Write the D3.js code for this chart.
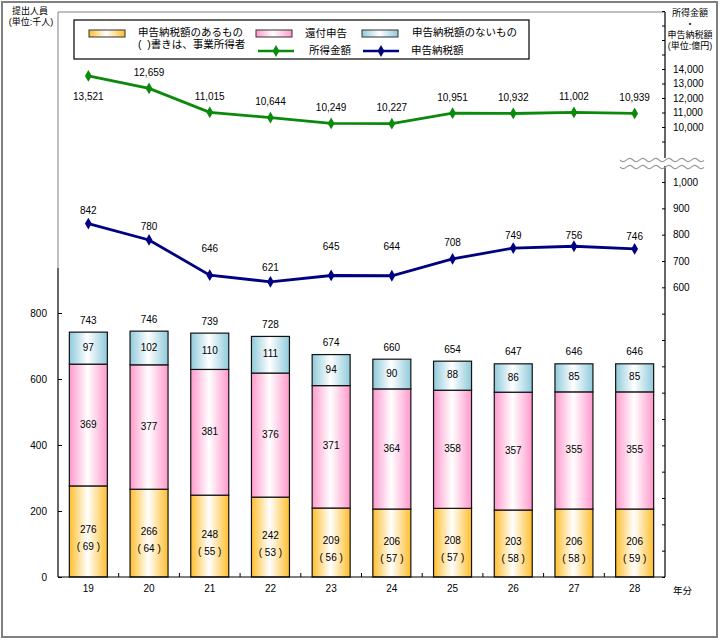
<!DOCTYPE html>
<html><head><meta charset="utf-8">
<script src="https://cdn.jsdelivr.net/npm/d3@7"></script>
<style>
body{margin:0;background:#fff;}
svg{display:block;}
.num{font-family:"Liberation Sans",Arial,sans-serif;font-size:10px;fill:#000;}
.jp{font-family:"Liberation Sans","Noto Sans CJK JP",sans-serif;fill:#000;white-space:pre;}
</style></head>
<body>
<svg id="chart" width="720" height="640"></svg>
<script>
// ---- data ----
const years = ["19","20","21","22","23","24","25","26","27","28"];
const taxPayers = [276,266,248,242,209,206,208,203,206,206];          // 申告納税額のあるもの
const businessIncome = [69,64,55,53,56,57,57,58,58,59];               // ( )書き 事業所得者
const refunds = [369,377,381,376,371,364,358,357,355,355];            // 還付申告
const nonTaxPayers = [97,102,110,111,94,90,88,86,85,85];              // 申告納税額のないもの
const totals = [743,746,739,728,674,660,654,647,646,646];
const incomeAmount = [13521,12659,11015,10644,10249,10227,10951,10932,11002,10939]; // 所得金額
const taxAmount = [842,780,646,621,645,644,708,749,756,746];           // 申告納税額
const leftTicks = [0,200,400,600,800];
const upperTicks = [9000,10000,11000,12000,13000,14000,15000,16000,17000,18000];
const upperLabels = [10000,11000,12000,13000,14000];
const lowerTicks = [-500,-400,-300,-200,-100,0,100,200,300,400,500,600,700,800,900,1000];
const lowerLabels = [600,700,800,900,1000];

// ---- layout ----
const svg = d3.select("#chart");
const L = 58, R = 665, B = 577, T = 12;
const taxLabelDy = [-12,-13,-26,-13,-28,-28,-16,-12,-10,-12];

const x = d3.scaleBand().domain(years).range([L, R]).paddingInner(0.374).paddingOuter(0.187);
const yL = d3.scaleLinear().domain([0, 800]).range([B, 313]);
const yU = d3.scaleLinear().domain([8000, 18000]).range([156, 11]);
const yLo = d3.scaleLinear().domain([-500, 1000]).range([577, 182]);
const fmt = d3.format(",");

// outer frame
svg.append("rect").attr("x",2).attr("y",2).attr("width",715).attr("height",635)
  .attr("fill","none").attr("stroke","#808080").attr("stroke-width",2);

// plot border (gray) top & left upper part
svg.append("line").attr("x1",L).attr("x2",R).attr("y1",T).attr("y2",T).attr("stroke","#808080");
svg.append("line").attr("x1",L).attr("x2",L).attr("y1",T).attr("y2",268).attr("stroke","#808080");

// gradients
const defs = svg.append("defs");
function grad(id, c){
  const g = defs.append("linearGradient").attr("id",id).attr("x1","0%").attr("x2","100%").attr("y1","0%").attr("y2","0%");
  g.append("stop").attr("offset","0%").attr("stop-color",c);
  g.append("stop").attr("offset","48%").attr("stop-color","#ffffff");
  g.append("stop").attr("offset","100%").attr("stop-color",c);
}
grad("gO","#FFBE2E");
grad("gP","#FF99CC");
grad("gB","#8FCADB");

// bars
const rows = years.map((y,i)=>({y, a:taxPayers[i], p:businessIncome[i], r:refunds[i], n:nonTaxPayers[i], t:totals[i]}));
const bw = x.bandwidth();
const g = svg.append("g");
rows.forEach(d=>{
  const x0 = x(d.y);
  const segs = [
    {v0:0, v1:d.a, fill:"url(#gO)"},
    {v0:d.a, v1:d.a+d.r, fill:"url(#gP)"},
    {v0:d.a+d.r, v1:d.a+d.r+d.n, fill:"url(#gB)"}
  ];
  segs.forEach(s=>{
    g.append("rect").attr("x",x0).attr("width",bw)
      .attr("y",yL(s.v1)).attr("height",yL(s.v0)-yL(s.v1))
      .attr("fill",s.fill).attr("stroke","#111").attr("stroke-width",1.2);
  });
  const cx = x0 + bw/2;
  const mA = (yL(0)+yL(d.a))/2;
  g.append("text").attr("class","num").attr("x",cx).attr("y",mA-1).attr("text-anchor","middle").attr("dominant-baseline","middle").text(d.a);
  g.append("text").attr("class","jp").style("font-size","10px").attr("x",cx).attr("y",mA+16).attr("text-anchor","middle").attr("dominant-baseline","middle").text("( "+d.p+" )");
  g.append("text").attr("class","num").attr("x",cx).attr("y",(yL(d.a)+yL(d.a+d.r))/2).attr("text-anchor","middle").attr("dominant-baseline","middle").text(d.r);
  g.append("text").attr("class","num").attr("x",cx).attr("y",(yL(d.a+d.r)+yL(d.a+d.r+d.n))/2).attr("text-anchor","middle").attr("dominant-baseline","middle").text(d.n);
  g.append("text").attr("class","num").attr("x",cx).attr("y",yL(d.a+d.r+d.n)-11).attr("text-anchor","middle").attr("dominant-baseline","middle").text(d.t);
});

// left axis
const axL = svg.append("g").attr("transform",`translate(${L},0)`)
  .call(d3.axisLeft(yL).tickValues(leftTicks).tickSizeInner(-4).tickSizeOuter(0).tickPadding(11));
axL.select(".domain").remove();
axL.selectAll("text").attr("class","num").style("font-size","10px").attr("font-family",null);
axL.selectAll("line").attr("stroke","#000");
svg.append("line").attr("x1",L).attr("x2",L).attr("y1",268).attr("y2",B).attr("stroke","#000").attr("stroke-width",1.2);

// bottom axis
svg.append("line").attr("x1",L).attr("x2",R).attr("y1",B).attr("y2",B).attr("stroke","#000").attr("stroke-width",1.2);
years.slice(1).forEach(yv=>{
  const bx = x(yv) - x.step()*x.paddingInner()/2;
  svg.append("line").attr("x1",bx).attr("x2",bx).attr("y1",B).attr("y2",B-4).attr("stroke","#000");
});
years.forEach(yv=>{
  svg.append("text").attr("class","num").attr("x",x(yv)+bw/2).attr("y",589).attr("text-anchor","middle").attr("dominant-baseline","middle").text(yv);
});
svg.append("text").attr("class","jp").style("font-size","9.5px").attr("x",673).attr("y",591).attr("dominant-baseline","middle").text("年分");

// right upper axis
const axU = svg.append("g").attr("transform",`translate(${R},0)`)
  .call(d3.axisRight(yU).tickValues(upperTicks).tickSizeInner(-3).tickSizeOuter(0).tickPadding(8)
    .tickFormat(v=>upperLabels.includes(v)?fmt(v):""));
axU.select(".domain").remove();
axU.selectAll("text").attr("class","num").style("font-size","10px").attr("font-family",null);
svg.append("line").attr("x1",R).attr("x2",R).attr("y1",T).attr("y2",158).attr("stroke","#000").attr("stroke-width",1.2);

// right lower axis
const axLo = svg.append("g").attr("transform",`translate(${R},0)`)
  .call(d3.axisRight(yLo).tickValues(lowerTicks).tickSizeInner(-3).tickSizeOuter(0).tickPadding(8)
    .tickFormat(v=>lowerLabels.includes(v)?fmt(v):""));
axLo.select(".domain").remove();
axLo.selectAll("text").attr("class","num").style("font-size","10px").attr("font-family",null);
svg.append("line").attr("x1",R).attr("x2",R).attr("y1",166).attr("y2",B).attr("stroke","#000").attr("stroke-width",1.2);

// break marks
[160,167].forEach(yy=>{
  const pts = d3.range(0,85,1).map(i=>[620+i, yy+1.6*Math.sin(i/13*2*Math.PI)]);
  svg.append("path").attr("d",d3.line()(pts)).attr("fill","none").attr("stroke","#999").attr("stroke-width",1.2);
});

// lines
const diamond = d3.symbol().type(d3.symbolDiamond).size(40);
function series(vals, ys, color){
  const line = d3.line().x((v,i)=>x(years[i])+bw/2).y(v=>ys(v));
  svg.append("path").attr("d",line(vals)).attr("fill","none").attr("stroke",color).attr("stroke-width",2.8);
  vals.forEach((v,i)=>{
    svg.append("path").attr("d",diamond).attr("fill",color)
      .attr("transform",`translate(${x(years[i])+bw/2},${ys(v)})`);
  });
}
series(incomeAmount, yU, "#0A8A0A");
series(taxAmount, yLo, "#000080");
incomeAmount.forEach((v,i)=>{
  svg.append("text").attr("class","num").attr("x",x(years[i])+bw/2).attr("y",yU(v)+(i===0?21:-15))
    .attr("text-anchor","middle").attr("dominant-baseline","middle").text(fmt(v));
});
taxAmount.forEach((v,i)=>{
  svg.append("text").attr("class","num").attr("x",x(years[i])+bw/2).attr("y",yLo(v)+taxLabelDy[i])
    .attr("text-anchor","middle").attr("dominant-baseline","middle").text(fmt(v));
});

// axis titles
const jt = (t,xx,yy,fs,anchor)=>svg.append("text").attr("class","jp").style("font-size",fs+"px")
  .attr("x",xx).attr("y",yy).attr("text-anchor",anchor||"start").attr("dominant-baseline","middle").text(t);
jt("提出人員",30,12,9,"middle");
jt("(単位:千人)",31,22.5,9,"middle");
jt("所得金額",690,14,9,"middle");
jt("・",690,25,9,"middle");
jt("申告納税額",690,36,9,"middle");
jt("(単位:億円)",690,47,9,"middle");

// legend
svg.append("rect").attr("x",74).attr("y",20).attr("width",455).attr("height",39).attr("fill","#fff").attr("stroke","#000").attr("stroke-width",1.2);
const sw = (xx,yy,fill)=>svg.append("rect").attr("x",xx).attr("y",yy).attr("width",36).attr("height",7).attr("fill",fill).attr("stroke","#333").attr("stroke-width",1);
sw(89,30,"url(#gO)"); sw(256,30,"url(#gP)"); sw(362,30,"url(#gB)");
const lg = (xx,yy,color)=>{
  svg.append("line").attr("x1",xx).attr("x2",xx+36).attr("y1",yy).attr("y2",yy).attr("stroke",color).attr("stroke-width",2.5);
  svg.append("path").attr("d",diamond).attr("fill",color).attr("transform",`translate(${xx+18},${yy})`);
};
lg(258,51,"#0A8A0A"); lg(363,51,"#000080");
jt("申告納税額のあるもの",138,33,10.5);
jt("(  )書きは、事業所得者",138,45,10.5);
jt("還付申告",305,34,10.5);
jt("所得金額",309,51,10.5);
jt("申告納税額のないもの",412,33,10.5);
jt("申告納税額",411,51,10.5);
</script>
</body></html>
